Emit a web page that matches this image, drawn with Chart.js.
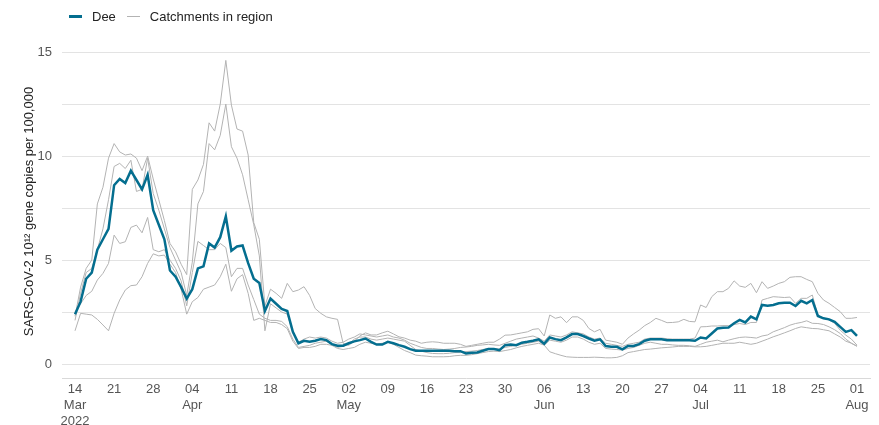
<!DOCTYPE html>
<html>
<head>
<meta charset="utf-8">
<script src="https://cdn.jsdelivr.net/npm/chart.js@4.4.1/dist/chart.umd.min.js"></script>
<style>
  html, body { margin: 0; padding: 0; background: #fff; }
  #wrap { position: relative; width: 879px; height: 425px; }
  #legend { position: absolute; left: 69px; top: 9px; font: 13px "Liberation Sans", Arial, sans-serif; color: #222; display: flex; align-items: center; }
  #legend .sw { display: inline-block; width: 13px; margin-right: 10px; }
  #legend .item { display: flex; align-items: center; margin-right: 11px; }
</style>
</head>
<body>
<div id="wrap">
  <canvas id="chart" width="879" height="425"></canvas>
  <div id="legend"></div>
</div>
<script>
// days since 14 Mar 2022, one value per day
var dee = [2.4, 3.0, 4.1, 4.4, 5.5, 6.0, 6.5, 8.6, 8.9, 8.7, 9.3, 8.85, 8.4, 9.1, 7.4, 6.7, 6.0, 4.5, 4.2, 3.7,
  3.15, 3.6, 4.6, 4.7, 5.8, 5.6, 6.1, 7.1, 5.45, 5.65, 5.7, 4.85, 4.1, 3.9, 2.55, 3.15, 2.9, 2.65, 2.55, 1.55,
  1.0, 1.12, 1.07, 1.12, 1.2, 1.15, 0.96, 0.88, 0.88, 1.0, 1.09, 1.15, 1.23, 1.07, 0.94, 0.94, 1.07, 1.0, 0.91, 0.83,
  0.72, 0.64, 0.64, 0.64, 0.64, 0.64, 0.64, 0.64, 0.62, 0.62, 0.51, 0.54, 0.56, 0.64, 0.72, 0.72, 0.67, 0.91, 0.94, 0.91,
  1.03, 1.07, 1.12, 1.19, 0.98, 1.28, 1.2, 1.15, 1.28, 1.44, 1.44, 1.35, 1.23, 1.12, 1.19, 0.87, 0.83, 0.83, 0.71, 0.87,
  0.87, 0.96, 1.12, 1.19, 1.19, 1.19, 1.15, 1.15, 1.15, 1.15, 1.15, 1.12, 1.28, 1.23, 1.47, 1.71, 1.75, 1.76, 1.96, 2.12,
  2.0, 2.28, 2.15, 2.84, 2.8, 2.84, 2.92, 2.95, 2.95, 2.79, 3.04, 2.92, 3.08, 2.31, 2.2, 2.15, 2.03, 1.79, 1.55, 1.63,
  1.35];

var catchment1 = [2.3, 3.7, 4.6, 5.0, 7.7, 8.5, 9.9, 10.6, 10.2, 10.05, 10.1, 9.9, 9.3, 10.0, 8.9, 7.9, 6.9, 5.8, 5.4, 4.8,
  4.3, 8.4, 8.85, 9.6, 11.6, 11.2, 12.5, 14.6, 12.45, 11.3, 11.2, 10.05, 6.8, 6.0, 2.8, 3.6, 3.4, 3.16, 3.88, 3.48,
  3.56, 3.72, 3.3, 2.67, 2.44, 2.27, 2.2, 2.15, 1.0, 0.9, 1.1, 1.35, 1.5, 1.4, 1.4, 1.5, 1.58, 1.45, 1.31, 1.25,
  1.15, 1.1, 1.0, 1.05, 1.07, 1.05, 1.0, 1.0, 1.0, 0.95, 0.85, 0.9, 0.95, 1.0, 1.05, 1.05, 1.2, 1.39, 1.4, 1.45,
  1.5, 1.55, 1.67, 1.7, 1.35, 2.36, 2.2, 2.27, 1.99, 2.27, 2.27, 2.1, 1.71, 1.55, 1.67, 1.15, 1.1, 1.05, 0.95, 1.25,
  1.45, 1.63, 1.85, 2.0, 2.2, 2.1, 1.99, 2.0, 2.03, 2.15, 2.05, 2.03, 2.84, 2.72, 3.24, 3.48, 3.48, 3.64, 4.0, 3.75,
  3.69, 3.88, 3.43, 3.96, 3.64, 3.75, 3.88, 3.96, 4.17, 4.2, 4.2, 4.07, 3.96, 3.4, 3.08, 2.92, 2.72, 2.52, 2.2, 2.2,
  2.24];

var catchment2 = [2.1, 3.4, 4.4, 4.6, 5.5, 6.5, 7.9, 9.5, 9.65, 9.4, 9.8, 8.3, 8.4, 9.9, 8.2, 7.4, 6.5, 5.6, 5.0, 4.4,
  3.3, 4.9, 7.7, 8.3, 10.6, 10.3, 11.0, 12.5, 10.45, 9.9, 9.1, 7.9, 6.7, 5.2, 1.6, 2.9, 2.7, 2.5, 2.4, 1.5,
  1.05, 1.2, 1.3, 1.25, 1.3, 1.25, 1.1, 1.0, 1.05, 1.2, 1.3, 1.45, 1.4, 1.35, 1.3, 1.35, 1.4, 1.3, 1.25, 1.15,
  1.0, 0.9, 0.8, 0.75, 0.75, 0.72, 0.7, 0.72, 0.75, 0.8, 0.82, 0.85, 0.9, 0.92, 0.95, 0.92, 0.9, 1.0, 1.1, 1.2,
  1.25, 1.3, 1.35, 1.25, 1.1, 1.4, 1.35, 1.3, 1.4, 1.55, 1.5, 1.45, 1.3, 1.2, 1.25, 1.0, 0.95, 0.9, 0.85, 0.95,
  1.0, 1.05, 1.2, 1.25, 1.25, 1.25, 1.22, 1.2, 1.2, 1.2, 1.2, 1.25, 1.79, 1.8, 1.83, 1.83, 1.85, 1.85, 1.9, 1.95,
  1.9, 2.0, 2.0, 3.08, 3.16, 3.24, 3.22, 3.2, 3.22, 2.92, 3.16, 3.16, 3.32, 2.36, 2.2, 2.12, 1.96, 1.63, 1.39, 1.2,
  0.91];

var catchment3 = [2.5, 2.9, 3.3, 3.5, 4.04, 4.36, 4.84, 6.2, 5.8, 5.88, 6.57, 6.68, 6.31, 7.05, 5.5, 5.4, 5.5, 5.0, 4.6, 4.0,
  2.8, 4.4, 5.9, 5.7, 5.5, 5.5, 5.8, 5.6, 4.2, 4.6, 4.6, 3.8, 3.1, 2.4, 2.2, 2.1, 2.1, 2.05, 1.8, 1.2,
  0.8, 0.85, 0.9, 1.0, 1.05, 1.1, 0.95, 0.8, 0.85, 0.95, 1.2, 1.3, 1.3, 1.2, 1.15, 1.2, 1.25, 1.2, 1.15, 1.1,
  0.9, 0.7, 0.62, 0.55, 0.51, 0.5, 0.5, 0.52, 0.55, 0.55, 0.6, 0.62, 0.65, 0.7, 0.75, 0.75, 0.72, 0.8, 0.85, 0.9,
  0.95, 1.0, 1.05, 1.1, 0.91, 1.15, 1.1, 1.05, 1.15, 1.3, 1.3, 1.2, 1.05, 0.95, 1.0, 0.75, 0.72, 0.7, 0.67, 0.75,
  0.8, 0.9, 1.0, 1.05, 1.0, 0.95, 0.95, 0.92, 0.9, 0.9, 0.88, 0.85, 0.95, 1.05, 1.1, 1.15, 1.07, 1.15, 1.22, 1.28,
  1.3, 1.28, 1.25, 1.35, 1.4, 1.55, 1.65, 1.75, 1.87, 1.95, 2.0, 2.08, 1.96, 1.95, 1.9, 1.79, 1.65, 1.47, 1.2, 1.0,
  0.87];

var catchment4 = [1.6, 2.44, 2.4, 2.36, 2.15, 1.88, 1.6, 2.44, 3.08, 3.56, 3.77, 3.8, 4.2, 4.84, 5.3, 5.2, 5.24, 4.8, 4.4, 3.6,
  2.4, 3.0, 3.2, 3.6, 3.7, 3.8, 4.2, 4.8, 3.5, 4.1, 4.3, 3.4, 2.1, 2.2, 2.1, 2.0, 2.0, 1.9, 1.7, 1.1,
  0.75, 0.8, 0.8, 0.85, 0.95, 0.95, 0.9, 0.75, 0.7, 0.75, 0.8, 0.95, 1.05, 1.0, 0.95, 1.0, 1.05, 0.95, 0.8, 0.65,
  0.55, 0.43, 0.4, 0.38, 0.35, 0.35, 0.35, 0.36, 0.4, 0.42, 0.42, 0.45, 0.5, 0.55, 0.6, 0.62, 0.6, 0.65, 0.7, 0.78,
  0.85, 0.9, 0.95, 1.0, 0.91, 0.59, 0.5, 0.42, 0.35, 0.33, 0.32, 0.32, 0.32, 0.33, 0.32, 0.3, 0.3, 0.32, 0.4, 0.55,
  0.6, 0.65, 0.7, 0.72, 0.75, 0.78, 0.8, 0.82, 0.85, 0.85, 0.85, 0.83, 0.83, 0.85, 0.9, 0.95, 1.0, 1.0, 1.0, 1.05,
  1.0, 0.95, 1.0, 1.1, 1.2, 1.31, 1.4, 1.5, 1.6, 1.71, 1.79, 1.75, 1.71, 1.7, 1.65, 1.6, 1.45, 1.3, 1.1, 1.0,
  0.85];

var tickDays = [0, 7, 14, 21, 28, 35, 42, 49, 56, 63, 70, 77, 84, 91, 98, 105, 112, 119, 126, 133, 140];
var tickLabels = [["14", "Mar", "2022"], "21", "28", ["04", "Apr"], "11", "18", "25", ["02", "May"], "09", "16",
  "23", "30", ["06", "Jun"], "13", "20", "27", ["04", "Jul"], "11", "18", "25", ["01", "Aug"]];
var yTicks = [0, 2.5, 5, 7.5, 10, 12.5, 15];

var deeColor = '#046e8f';
var greyColor = '#b3b3b3';
var font = '"Liberation Sans", Arial, sans-serif';

function toPoints(arr) {
  return arr.map(function (v, i) { return { x: i, y: v }; });
}

window.onload = function () {
  var ctx = document.getElementById('chart').getContext('2d');

  var greys = [catchment1, catchment2, catchment3, catchment4].map(function (arr) {
    return {
      label: 'Catchments in region',
      data: toPoints(arr),
      borderColor: greyColor,
      borderWidth: 1,
      pointRadius: 0,
      tension: 0
    };
  });

  var chart = new Chart(ctx, {
    type: 'line',
    data: {
      datasets: [{
        label: 'Dee',
        data: toPoints(dee),
        borderColor: deeColor,
        borderWidth: 2.5,
        pointRadius: 0,
        tension: 0
      }].concat(greys)
    },
    options: {
      responsive: false,
      animation: false,
      layout: { padding: { left: 14, right: 9, top: 45, bottom: 0 } },
      plugins: {
        legend: { display: false },
        tooltip: { enabled: false }
      },
      scales: {
        x: {
          type: 'linear',
          min: -2.33,
          max: 142.33,
          afterBuildTicks: function (scale) {
            scale.ticks = tickDays.map(function (d) { return { value: d }; });
          },
          afterFit: function (scale) { scale.height = 47; },
          ticks: {
            autoSkip: false,
            maxRotation: 0,
            padding: 4,
            color: '#555',
            font: { family: font, size: 13, lineHeight: 1.2 },
            callback: function (value) {
              var i = tickDays.indexOf(value);
              return i >= 0 ? tickLabels[i] : '';
            }
          },
          grid: { display: false, drawTicks: false },
          border: { display: true, color: '#d9d9d9', width: 1 }
        },
        y: {
          min: -0.67,
          max: 15.34,
          afterBuildTicks: function (scale) {
            scale.ticks = yTicks.map(function (v) { return { value: v }; });
          },
          afterFit: function (scale) { scale.width = 48; },
          ticks: {
            padding: 10,
            color: '#555',
            font: { family: font, size: 13 },
            callback: function (value) { return value % 5 === 0 ? value : ''; }
          },
          grid: { color: '#e3e3e3', drawTicks: false },
          border: { display: false },
          title: {
            display: true,
            text: 'SARS-CoV-2 10\u00b9\u00b2 gene copies per 100,000',
            color: '#222',
            font: { family: font, size: 13 },
            padding: { top: 8, bottom: 0 }
          }
        }
      }
    }
  });

  // legend
  var legend = document.getElementById('legend');
  legend.innerHTML =
    '<span class="item"><span class="sw" style="height:2.5px;background:' + deeColor + '"></span>Dee</span>' +
    '<span class="item"><span class="sw" style="height:1px;background:' + greyColor + '"></span>Catchments in region</span>';
};
</script>
</body>
</html>
